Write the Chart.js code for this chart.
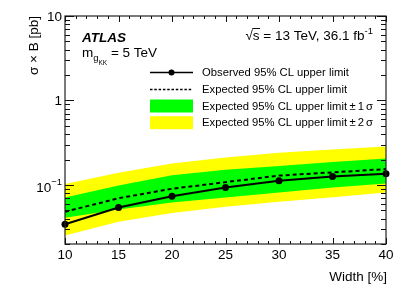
<!DOCTYPE html>
<html>
<head>
<meta charset="utf-8">
<script src="https://cdn.jsdelivr.net/npm/chart.js@4/dist/chart.umd.min.js"></script>
<style>
  html, body { margin: 0; padding: 0; background: #fff; }
  #wrap { width: 407px; height: 292px; }
</style>
</head>
<body>
<div id="wrap"><canvas id="limitChart" width="407" height="292"></canvas></div>
<script>
// values
const widths = [10, 15, 20, 25, 30, 35, 40];
const observed = [0.0343, 0.0541, 0.0736, 0.0933, 0.112, 0.126, 0.136];
const expected = [0.0481, 0.0697, 0.0901, 0.108, 0.129, 0.141, 0.154];
const oneSigmaUp = [0.0711, 0.0986, 0.130, 0.151, 0.168, 0.1875, 0.206];
const oneSigmaDown = [0.0408, 0.0512, 0.0620, 0.0711, 0.0815, 0.0934, 0.104];
const twoSigmaUp = [0.1028, 0.1396, 0.180, 0.212, 0.240, 0.262, 0.286];
const twoSigmaDown = [0.0252, 0.0366, 0.0465, 0.0551, 0.0632, 0.0717, 0.0815];

const xTickLabels = [10, 15, 20, 25, 30, 35, 40];
const yTickValues = [10, 1, 0.1];
const yTickText = ['10', '1', '10'];
const yTickSup = ['', '', '\u22121'];
const legendLabels = [
  'Observed 95% CL upper limit',
  'Expected 95% CL upper limit',
  'Expected 95% CL upper limit \u00b1 1 \u03c3',
  'Expected 95% CL upper limit \u00b1 2 \u03c3',
];

const FONT = '"Liberation Sans", Arial, Helvetica, sans-serif';
const pts = (vals) => widths.map((w, i) => ({ x: w, y: vals[i] }));

const atlasDecor = {
  id: 'atlasDecor',
  afterDraw(chart) {
    const ctx = chart.ctx;
    const { left, right, top, bottom } = chart.chartArea;
    const xs = chart.scales.x;
    const ys = chart.scales.y;
    ctx.save();

    // frame
    ctx.strokeStyle = '#222';
    ctx.lineWidth = 1.2;
    ctx.strokeRect(left, top, right - left, bottom - top);

    // x ticks, bottom and top
    ctx.lineWidth = 1;
    ctx.strokeStyle = '#111';
    for (let v = xs.min; v <= xs.max; v++) {
      const px = Math.round(xs.getPixelForValue(v)) + 0.5;
      const len = v % 5 === 0 ? 6 : 3;
      ctx.beginPath();
      ctx.moveTo(px, bottom); ctx.lineTo(px, bottom - len);
      ctx.moveTo(px, top); ctx.lineTo(px, top + len);
      ctx.stroke();
    }
    // y ticks, log decades with 2..9 minors
    for (let e = -2; e <= 1; e++) {
      for (let m = 1; m <= 9; m++) {
        const v = m * Math.pow(10, e);
        if (v < ys.min * 0.999 || v > ys.max * 1.001) continue;
        const py = Math.round(ys.getPixelForValue(v)) + 0.5;
        const len = m === 1 ? 9 : 5;
        ctx.beginPath();
        ctx.moveTo(left, py); ctx.lineTo(left + len, py);
        ctx.moveTo(right, py); ctx.lineTo(right - len, py);
        ctx.stroke();
      }
    }

    ctx.fillStyle = '#000';
    // x tick labels
    ctx.font = '13.5px ' + FONT;
    ctx.textAlign = 'center';
    ctx.textBaseline = 'alphabetic';
    xTickLabels.forEach((v) => {
      ctx.fillText(String(v), xs.getPixelForValue(v), 258.5);
    });
    // y tick labels
    yTickValues.forEach((v, i) => {
      const py = ys.getPixelForValue(v);
      let xr = 62;
      ctx.textAlign = 'right';
      if (yTickSup[i]) {
        ctx.font = '9.5px ' + FONT;
        ctx.fillText(yTickSup[i], xr, py + 0.5);
        xr -= ctx.measureText(yTickSup[i]).width;
        ctx.font = '13.5px ' + FONT;
        ctx.fillText(yTickText[i], xr, py + 7);
      } else {
        ctx.font = '13.5px ' + FONT;
        ctx.fillText(yTickText[i], xr, py + 5);
      }
    });

    // axis titles
    ctx.font = '13.5px ' + FONT;
    ctx.textAlign = 'right';
    ctx.fillText('Width [%]', right + 1, 281);
    ctx.save();
    ctx.translate(37.5, top);
    ctx.rotate(-Math.PI / 2);
    ctx.fillText('\u03c3 \u00d7 B [pb]', 0, 0);
    ctx.restore();

    // labels
    ctx.textAlign = 'left';
    ctx.font = 'italic bold 13.5px ' + FONT;
    ctx.fillText('ATLAS', 82, 41.5);

    ctx.font = '13.5px ' + FONT;
    let x = 82;
    ctx.fillText('m', x, 57);
    x += ctx.measureText('m').width;
    ctx.font = '9.5px ' + FONT;
    ctx.fillText('g', x, 61);
    x += ctx.measureText('g').width;
    ctx.font = '6.5px ' + FONT;
    ctx.fillText('KK', x, 64.5);
    x += ctx.measureText('KK').width;
    ctx.font = '13.5px ' + FONT;
    ctx.fillText(' = 5 TeV', x, 57);

    // sqrt(s) label, right aligned
    ctx.textAlign = 'right';
    ctx.font = '9.5px ' + FONT;
    const sup = '-1';
    ctx.fillText(sup, 373, 34);
    const supW = ctx.measureText(sup).width;
    ctx.font = '13.5px ' + FONT;
    const main = '\u221as = 13 TeV, 36.1 fb';
    ctx.fillText(main, 373 - supW, 39.5);
    const mainW = ctx.measureText(main).width;
    const sqrtW = ctx.measureText('\u221a').width;
    const sW = ctx.measureText('s').width;
    const sx = 373 - supW - mainW + sqrtW;
    ctx.lineWidth = 1;
    ctx.beginPath();
    ctx.moveTo(sx - 0.5, 28.5); ctx.lineTo(sx + sW + 0.5, 28.5);
    ctx.stroke();

    // legend
    const lx0 = 150, lx1 = 193, tx = 202;
    const rows = [72.5, 89.5, 106, 122.7];
    ctx.strokeStyle = '#000';
    ctx.lineWidth = 1.5;
    ctx.beginPath();
    ctx.moveTo(lx0, rows[0]); ctx.lineTo(lx1, rows[0]);
    ctx.stroke();
    ctx.beginPath();
    ctx.arc((lx0 + lx1) / 2, rows[0], 3, 0, Math.PI * 2);
    ctx.fill();
    ctx.lineWidth = 1.3;
    ctx.setLineDash([2.5, 1.8]);
    ctx.beginPath();
    ctx.moveTo(lx0, rows[1]); ctx.lineTo(lx1, rows[1]);
    ctx.stroke();
    ctx.setLineDash([]);
    ctx.fillStyle = '#00ff00';
    ctx.fillRect(lx0, rows[2] - 6.5, lx1 - lx0, 13);
    ctx.fillStyle = '#ffff00';
    ctx.fillRect(lx0, rows[3] - 6.5, lx1 - lx0, 13);

    ctx.fillStyle = '#000';
    ctx.font = '11.25px ' + FONT;
    ctx.textAlign = 'left';
    ctx.textBaseline = 'middle';
    legendLabels.forEach((t, i) => {
      // the "± n σ" tail is set tighter, like ROOT's latex
      const parts = t.split(' ');
      const cut = parts.indexOf('\u00b1');
      if (cut < 0) {
        ctx.fillText(t, tx, rows[i] + 0.5);
        return;
      }
      const head = parts.slice(0, cut).join(' ');
      let cx = tx;
      ctx.fillText(head, cx, rows[i] + 0.5);
      cx += ctx.measureText(head).width + 2.5;
      parts.slice(cut).forEach((p) => {
        ctx.fillText(p, cx, rows[i] + 0.5);
        cx += ctx.measureText(p).width + 2;
      });
    });

    ctx.restore();
  },
};

const ctx = document.getElementById('limitChart').getContext('2d');
new Chart(ctx, {
  type: 'line',
  data: {
    datasets: [
      {
        label: legendLabels[0],
        data: pts(observed),
        borderColor: '#000',
        borderWidth: 2,
        pointRadius: 3.5,
        pointBackgroundColor: '#000',
        pointBorderWidth: 0,
        fill: false,
        clip: false,
      },
      {
        label: legendLabels[1],
        data: pts(expected),
        borderColor: '#000',
        borderWidth: 2,
        borderDash: [4, 3],
        pointRadius: 0,
        fill: false,
      },
      {
        label: 'band1 up',
        data: pts(oneSigmaUp),
        borderColor: 'rgba(0,0,0,0)',
        borderWidth: 0,
        pointRadius: 0,
        backgroundColor: '#00ff00',
        fill: '+1',
      },
      {
        label: 'band1 down',
        data: pts(oneSigmaDown),
        borderColor: 'rgba(0,0,0,0)',
        borderWidth: 0,
        pointRadius: 0,
        fill: false,
      },
      {
        label: 'band2 up',
        data: pts(twoSigmaUp),
        borderColor: 'rgba(0,0,0,0)',
        borderWidth: 0,
        pointRadius: 0,
        backgroundColor: '#ffff00',
        fill: '+1',
      },
      {
        label: 'band2 down',
        data: pts(twoSigmaDown),
        borderColor: 'rgba(0,0,0,0)',
        borderWidth: 0,
        pointRadius: 0,
        fill: false,
      },
    ],
  },
  options: {
    responsive: false,
    animation: false,
    devicePixelRatio: 1,
    layout: { padding: { left: 65, right: 21, top: 16, bottom: 48 } },
    scales: {
      x: { type: 'linear', min: 10, max: 40, display: false },
      y: { type: 'logarithmic', min: 0.02, max: 10, display: false },
    },
    plugins: {
      legend: { display: false },
      tooltip: { enabled: false },
      filler: { drawTime: 'beforeDatasetsDraw' },
    },
    elements: { line: { tension: 0 } },
  },
  plugins: [atlasDecor],
});
</script>
</body>
</html>
